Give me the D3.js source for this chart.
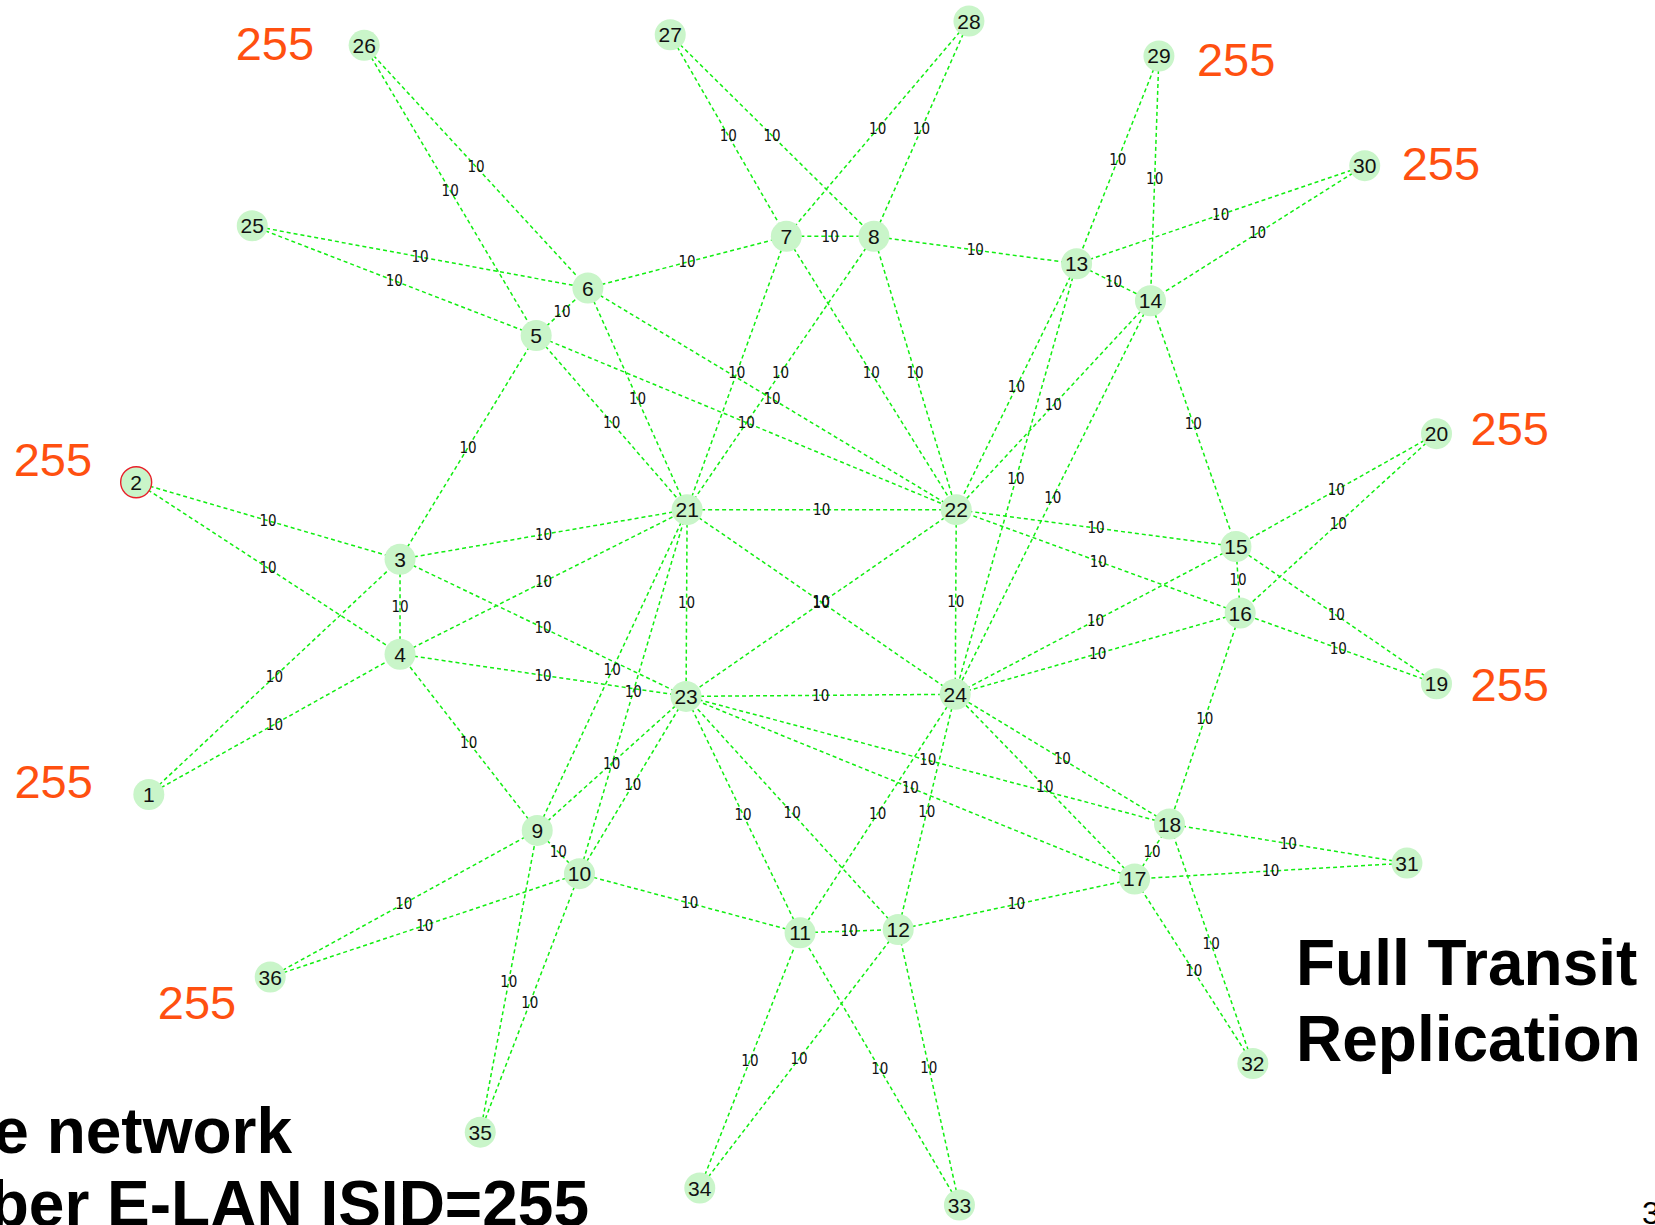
<!DOCTYPE html>
<meta charset="utf-8">
<style>
body { margin: 0; background: #fff; }
.edge { fill: none; stroke: #11ee11; stroke-width: 1.5; stroke-dasharray: 4,3; }
.cost { font: 15px "DejaVu Sans Condensed", sans-serif; fill: #111; text-anchor: middle; }
.node circle { fill: #c9f5c9; }
.node text { font: 21px "Liberation Sans", Arial, sans-serif; fill: #111; text-anchor: middle; }
.isid { font: 47px "Liberation Sans", Arial, sans-serif; fill: #ff5010; }
.title { font: bold 64px "Liberation Sans", Arial, sans-serif; fill: #000; }
</style>
<body>
<script src="https://cdnjs.cloudflare.com/ajax/libs/d3/7.8.5/d3.min.js"></script>
<script>
// node layout (reference units 1568 x 1161)
var nodeIds = d3.range(1, 37);
var nodeX = [141,129,379,379,508,557,745,828,509,549,758,851,1020,1090,1171,1175,1075,1108,1361,1361,
             651,906,650,905,239,345,635,918,1098,1293,1333,1187,909,663,455,256];
var nodeY = [753,457,530,620,318,273,224,224,787,828,884,881,250,285,518,581,833,781,648,411,
             483,483,660,658,214,43,33,20,53,157,818,1008,1142,1126,1073,926];

// links: from, to, cost
var edgeFrom = [25,25,26,26,27,27,28,28,29,29,30,30,20,20,19,19,31,31,32,32,33,33,34,34,35,35,36,36,2,2,1,1,
                3,5,7,9,11,13,15,17,
                6,8,14,16,17,11,9,3,
                21,23,21,22,21,22,
                3,4,3,4,5,6,5,6,7,8,7,8,13,14,13,14,15,16,15,16,18,17,18,17,11,12,11,12,9,10,9,10];
var edgeTo   = [6,5,6,5,7,8,7,8,13,14,13,14,15,16,15,16,18,17,17,18,11,12,11,12,9,10,9,10,3,4,3,4,
                4,6,8,10,12,14,16,18,
                7,13,15,18,12,10,4,5,
                22,24,23,24,24,23,
                21,21,23,23,21,21,22,22,21,21,22,22,22,22,24,24,22,22,24,24,24,24,23,23,23,23,24,24,21,21,23,23];
var edgeCost = edgeFrom.map(function() { return 10; });

// E-LAN ISID members
var isidMembers = [26,29,30,2,20,19,1,36];
var isidValue = "255";

var width = 1655, height = 1225;

var x = d3.scaleLinear().domain([0, 1568]).range([0, width]);
var y = d3.scaleLinear().domain([0, 1161]).range([0, height]);

var nodes = nodeIds.map(function(id, i) { return {id: id, x: nodeX[i], y: nodeY[i]}; });
var byId = {};
nodes.forEach(function(n) { byId[n.id] = n; });
var links = edgeFrom.map(function(f, i) { return {source: byId[f], target: byId[edgeTo[i]], cost: edgeCost[i]}; });

var svg = d3.select('body').append('svg')
    .attr('width', width)
    .attr('height', height);

svg.append('g').selectAll('line')
    .data(links)
  .enter().append('line')
    .attr('class', 'edge')
    .attr('x1', function(d) { return x(d.source.x); })
    .attr('y1', function(d) { return y(d.source.y); })
    .attr('x2', function(d) { return x(d.target.x); })
    .attr('y2', function(d) { return y(d.target.y); });

svg.append('g').selectAll('text')
    .data(links)
  .enter().append('text')
    .attr('class', 'cost')
    .attr('x', function(d) { return x((d.source.x + d.target.x) / 2); })
    .attr('y', function(d) { return y((d.source.y + d.target.y) / 2); })
    .attr('dy', '.35em')
    .text(function(d) { return d.cost; });

var node = svg.append('g').selectAll('.node')
    .data(nodes)
  .enter().append('g')
    .attr('class', 'node')
    .attr('transform', function(d) { return 'translate(' + x(d.x) + ',' + y(d.y) + ')'; });

node.append('circle')
    .attr('r', 15.5)
    .style('stroke', function(d) { return d.id === 2 ? '#e8202a' : 'none'; })
    .style('stroke-width', 1.4);

node.append('text')
    .attr('dy', '.36em')
    .text(function(d) { return d.id; });

// where each "255" sits next to its node (px offset, anchor)
var isidPlace = {
  26: [-50, 15, 'end'], 29: [38, 20, 'start'], 30: [37, 14, 'start'], 2: [-44, -6, 'end'],
  20: [34, 11, 'start'], 19: [34, 17, 'start'], 1: [-56, 3, 'end'], 36: [-34, 42, 'end']
};

svg.append('g').selectAll('text')
    .data(isidMembers)
  .enter().append('text')
    .attr('class', 'isid')
    .attr('x', function(d) { return x(byId[d].x) + isidPlace[d][0]; })
    .attr('y', function(d) { return y(byId[d].y) + isidPlace[d][1]; })
    .style('text-anchor', function(d) { return isidPlace[d][2]; })
    .text(isidValue);

svg.append('text').attr('class', 'title').attr('x', 1296).attr('y', 985).text('Full Transit');
svg.append('text').attr('class', 'title').attr('x', 1296).attr('y', 1061).text('Replication');
svg.append('text').attr('class', 'title').attr('x', 292).attr('y', 1153).style('text-anchor', 'end').text('e network');
svg.append('text').attr('class', 'title').attr('x', 589).attr('y', 1226).style('text-anchor', 'end').text('ber E-LAN ISID=255');
svg.append('text').attr('x', 1642).attr('y', 1224)
    .style('font', '32px "Liberation Sans", Arial, sans-serif').text('3');
</script>
</body>
